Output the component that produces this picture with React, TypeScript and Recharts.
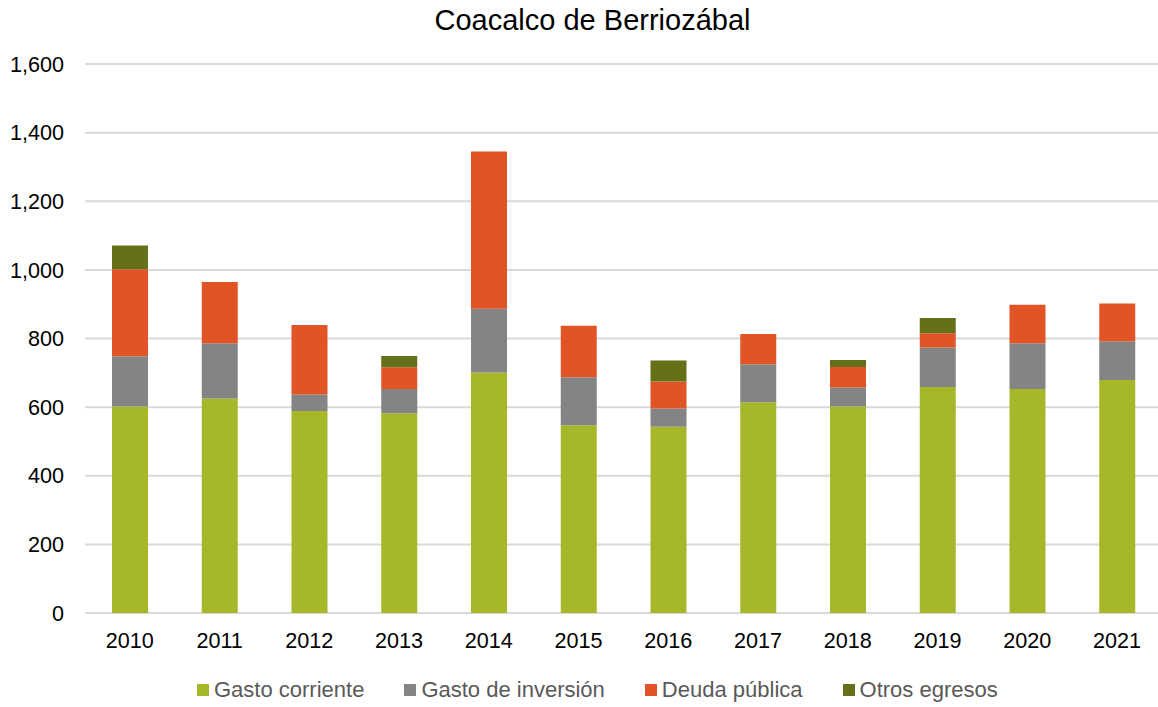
import React from 'react'
import { BarChart, Bar, XAxis, YAxis, CartesianGrid, Legend } from 'recharts'

const years = ['2010', '2011', '2012', '2013', '2014', '2015', '2016', '2017', '2018', '2019', '2020', '2021']
const gastoCorriente = [602, 625, 589, 582, 701, 547, 543, 614, 602, 659, 653, 679]
const gastoInversion = [146, 161, 48, 71, 186, 140, 53, 111, 55, 115, 133, 113]
const deudaPublica = [254, 179, 202, 63, 458, 150, 79, 88, 60, 41, 112, 110]
const otrosEgresos = [69, 0, 0, 33, 0, 0, 61, 0, 20, 45, 0, 0]
const yTicks = [0, 200, 400, 600, 800, 1000, 1200, 1400, 1600]

const series = [
  { key: 'corriente', name: 'Gasto corriente', color: '#a6b72a' },
  { key: 'inversion', name: 'Gasto de inversión', color: '#848484' },
  { key: 'deuda', name: 'Deuda pública', color: '#e05426' },
  { key: 'otros', name: 'Otros egresos', color: '#657019' },
]

const data = years.map((year, i) => ({
  year,
  corriente: gastoCorriente[i],
  inversion: gastoInversion[i],
  deuda: deudaPublica[i],
  otros: otrosEgresos[i],
}))

const FONT = '"Liberation Sans", Arial, sans-serif'

function LegendContent() {
  return (
    <div
      style={{
        display: 'flex',
        alignItems: 'center',
        height: 39,
        paddingTop: 4,
        paddingLeft: 197,
        boxSizing: 'border-box',
        fontFamily: FONT,
        fontSize: 22,
        color: '#595959',
      }}
    >
      {series.map((s) => (
        <div key={s.key} style={{ display: 'flex', alignItems: 'center', marginRight: 40 }}>
          <span style={{ width: 12, height: 12, background: s.color, marginRight: 5, display: 'inline-block' }} />
          <span>{s.name}</span>
        </div>
      ))}
    </div>
  )
}

export default function App() {
  return (
    <div
      style={{
        position: 'absolute',
        left: 0,
        top: 0,
        width: 1158,
        height: 707,
        overflow: 'hidden',
        background: '#fff',
      }}
    >
      <div
        style={{
          position: 'absolute',
          left: 0,
          top: 6,
          width: 1185,
          textAlign: 'center',
          fontFamily: FONT,
          fontSize: 29,
          lineHeight: 1,
          color: '#000',
        }}
      >
        Coacalco de Berriozábal
      </div>
      <BarChart
        width={1162}
        height={707}
        data={data}
        margin={{ top: 64, right: 0, bottom: 0, left: 0 }}
        barSize={36}
      >
        <CartesianGrid vertical={false} stroke="#d9d9d9" strokeWidth={2} />
        <XAxis
          dataKey="year"
          axisLine={false}
          tickLine={false}
          tickSize={0}
          tickMargin={20}
          height={55}
          tick={{ fill: '#000', fontSize: 21.6, fontFamily: FONT }}
        />
        <YAxis
          domain={[0, 1600]}
          ticks={yTicks}
          width={85}
          axisLine={false}
          tickLine={false}
          tickSize={0}
          tickMargin={21}
          tickFormatter={(v: number) => v.toLocaleString('en-US')}
          tick={{ fill: '#000', fontSize: 21.6, fontFamily: FONT }}
        />
        <Legend
          verticalAlign="bottom"
          content={<LegendContent />}
          wrapperStyle={{ left: 0, width: 1162, bottom: 0 }}
        />
        {series.map((s) => (
          <Bar
            key={s.key}
            dataKey={s.key}
            name={s.name}
            stackId="a"
            fill={s.color}
            isAnimationActive={false}
          />
        ))}
      </BarChart>
    </div>
  )
}
